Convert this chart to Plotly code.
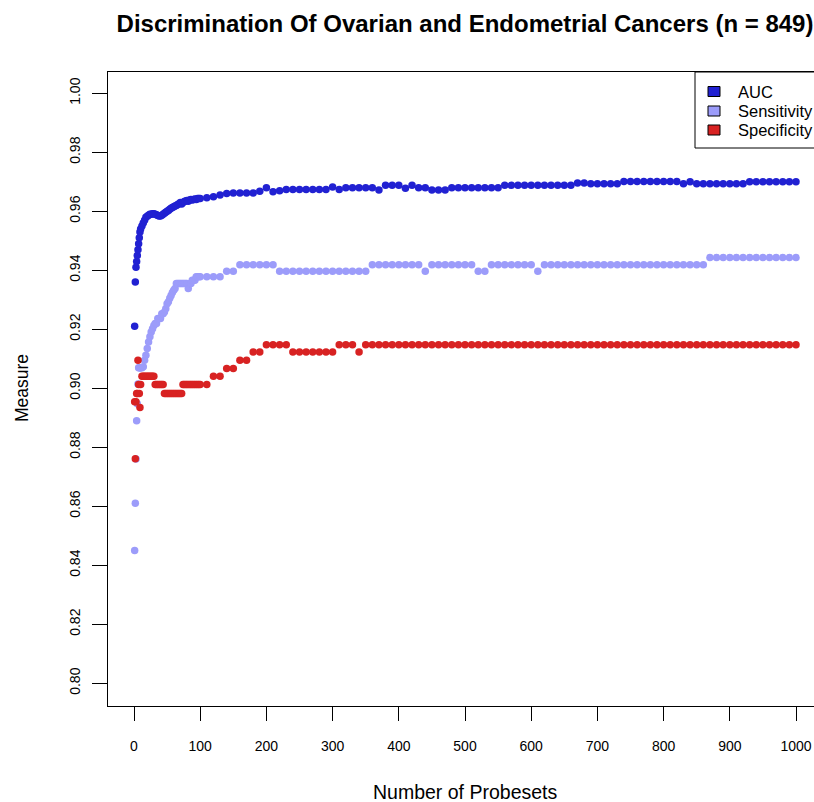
import plotly.graph_objects as go

# ---------------- data ----------------
probesets = list(range(1, 11)) + list(range(12, 101, 2)) + list(range(110, 1001, 10))

auc = [
    0.921, 0.936, 0.941, 0.943, 0.945, 0.947, 0.949, 0.951, 0.953, 0.954,
    # 12..100 step 2
    0.955, 0.956, 0.957, 0.958, 0.9583,
    0.9587, 0.959, 0.959, 0.9592, 0.9592,
    0.959, 0.9588, 0.9586, 0.9584, 0.9584,
    0.9587, 0.959, 0.9593, 0.9597, 0.960,
    0.9603, 0.9607, 0.961, 0.9613, 0.9615,
    0.9618, 0.962, 0.9623, 0.9626, 0.963,
    0.9625, 0.963, 0.9633, 0.9635, 0.9637,
    0.9634, 0.9638, 0.964, 0.9638, 0.964,
    0.9642, 0.964, 0.9643, 0.9643, 0.9643,
    # 110..1000 step 10
    0.9646, 0.9649, 0.9655, 0.966, 0.9662, 0.9662, 0.9662, 0.9662, 0.9668, 0.968,
    0.9666, 0.967, 0.9674, 0.9674, 0.9674, 0.9674, 0.9674, 0.9674, 0.9674, 0.9682,
    0.9674, 0.968, 0.968, 0.968, 0.968, 0.968, 0.9672, 0.9688, 0.9688, 0.9688,
    0.9678, 0.9688, 0.968, 0.968, 0.9672, 0.9672, 0.9672, 0.968, 0.968, 0.968,
    0.968, 0.968, 0.968, 0.968, 0.968, 0.9688, 0.9688, 0.9688, 0.9688, 0.9688,
    0.9688, 0.9688, 0.9688, 0.9688, 0.9688, 0.9688, 0.9696, 0.9696, 0.9693, 0.9693,
    0.9693, 0.9693, 0.9693, 0.9701, 0.9701, 0.9701, 0.9701, 0.9701, 0.9701, 0.9701,
    0.9701, 0.9701, 0.9693, 0.970, 0.9693, 0.9693, 0.9693, 0.9693, 0.9693, 0.9693,
    0.9693, 0.9693, 0.970, 0.970, 0.970, 0.970, 0.970, 0.970, 0.970, 0.970,
]

sensitivity = [
    0.845, 0.861, 0.876, 0.889, 0.8948, 0.9015, 0.907, 0.907, 0.907, 0.907,
    # 12..100 step 2
    0.907, 0.9073, 0.9095, 0.9112, 0.9135,
    0.9157, 0.9175, 0.9191, 0.9202, 0.9213,
    0.922, 0.922, 0.9237, 0.9237, 0.9237,
    0.9253, 0.9253, 0.9259, 0.927, 0.9287,
    0.9293, 0.9305, 0.9315, 0.9325, 0.9332,
    0.9338, 0.9355, 0.9355, 0.9355, 0.9355,
    0.9355, 0.9355, 0.9355, 0.9355, 0.9355,
    0.9338, 0.9355, 0.9355, 0.9366, 0.9366,
    0.9366, 0.9378, 0.9378, 0.9378, 0.9378,
    # 110..1000 step 10
    0.9378, 0.9378, 0.9378, 0.9397, 0.9397, 0.9419, 0.9419, 0.9419, 0.9419, 0.9419,
    0.9419, 0.9397, 0.9397, 0.9397, 0.9397, 0.9397, 0.9397, 0.9397, 0.9397, 0.9397,
    0.9397, 0.9397, 0.9397, 0.9397, 0.9397, 0.9419, 0.9419, 0.9419, 0.9419, 0.9419,
    0.9419, 0.9419, 0.9419, 0.9397, 0.9419, 0.9419, 0.9419, 0.9419, 0.9419, 0.9419,
    0.9419, 0.9397, 0.9397, 0.9419, 0.9419, 0.9419, 0.9419, 0.9419, 0.9419, 0.9419,
    0.9397, 0.9419, 0.9419, 0.9419, 0.9419, 0.9419, 0.9419, 0.9419, 0.9419, 0.9419,
    0.9419, 0.9419, 0.9419, 0.9419, 0.9419, 0.9419, 0.9419, 0.9419, 0.9419, 0.9419,
    0.9419, 0.9419, 0.9419, 0.9419, 0.9419, 0.9419, 0.9443, 0.9443, 0.9443, 0.9443,
    0.9443, 0.9443, 0.9443, 0.9443, 0.9443, 0.9443, 0.9443, 0.9443, 0.9443, 0.9443,
]

specificity = [
    0.8954, 0.8761, 0.8954, 0.8982, 0.8982, 0.9095, 0.9013, 0.8982, 0.8935, 0.9013,
    # 12..100 step 2
    0.9041, 0.9041, 0.9041, 0.9041, 0.9041,
    0.9041, 0.9041, 0.9041, 0.9041, 0.9041,
    0.9013, 0.9013, 0.9013, 0.9013, 0.9013,
    0.9013, 0.9013, 0.8982, 0.8982, 0.8982,
    0.8982, 0.8982, 0.8982, 0.8982, 0.8982,
    0.8982, 0.8982, 0.8982, 0.8982, 0.8982,
    0.8982, 0.9013, 0.9013, 0.9013, 0.9013,
    0.9013, 0.9013, 0.9013, 0.9013, 0.9013,
    0.9013, 0.9013, 0.9013, 0.9013, 0.9013,
    # 110..1000 step 10
    0.9013, 0.9041, 0.9041, 0.9067, 0.9067, 0.9095, 0.9095, 0.9123, 0.9123, 0.9148,
    0.9148, 0.9148, 0.9148, 0.9123, 0.9123, 0.9123, 0.9123, 0.9123, 0.9123, 0.9123,
    0.9148, 0.9148, 0.9148, 0.9123, 0.9148, 0.9148, 0.9148, 0.9148, 0.9148, 0.9148,
    0.9148, 0.9148, 0.9148, 0.9148, 0.9148, 0.9148, 0.9148, 0.9148, 0.9148, 0.9148,
    0.9148, 0.9148, 0.9148, 0.9148, 0.9148, 0.9148, 0.9148, 0.9148, 0.9148, 0.9148,
    0.9148, 0.9148, 0.9148, 0.9148, 0.9148, 0.9148, 0.9148, 0.9148, 0.9148, 0.9148,
    0.9148, 0.9148, 0.9148, 0.9148, 0.9148, 0.9148, 0.9148, 0.9148, 0.9148, 0.9148,
    0.9148, 0.9148, 0.9148, 0.9148, 0.9148, 0.9148, 0.9148, 0.9148, 0.9148, 0.9148,
    0.9148, 0.9148, 0.9148, 0.9148, 0.9148, 0.9148, 0.9148, 0.9148, 0.9148, 0.9148,
]

series_names = ["AUC", "Sensitivity", "Specificity"]
x_ticks = [0, 100, 200, 300, 400, 500, 600, 700, 800, 900, 1000]
y_ticks = [0.80, 0.82, 0.84, 0.86, 0.88, 0.90, 0.92, 0.94, 0.96, 0.98, 1.00]

# ---------------- style ----------------
colors = ["#2121D2", "#9C9CFA", "#D82222"]
FONT = "Liberation Sans, Arial, Helvetica, sans-serif"
W, H = 814, 802
L, T, B = 108, 72, 706       # plot area bounds in pixels
R = W                        # plot runs to the right edge (cropped as in reference)


def sx(p):   # pixel x -> paper
    return (p - L) / (R - L)


def sy(p):   # pixel y -> paper
    return (B - p) / (B - T)


fig = go.Figure()
for name, vals, col in zip(series_names, [auc, sensitivity, specificity], colors):
    fig.add_trace(go.Scatter(
        x=probesets, y=vals, mode="markers", name=name,
        marker=dict(color=col, size=7.5, line=dict(width=0)),
        showlegend=False,
    ))

# legend (R style, drawn manually)
shapes = [dict(type="rect", xref="paper", yref="paper",
               x0=sx(695), x1=sx(850), y0=sy(148), y1=sy(72),
               line=dict(color="black", width=1), fillcolor="white", layer="above")]
annotations = []
row_y = [91.5, 111, 130]
for name, col, yc in zip(series_names, colors, row_y):
    shapes.append(dict(type="rect", xref="paper", yref="paper",
                       x0=sx(708), x1=sx(720), y0=sy(yc + 5), y1=sy(yc - 5),
                       line=dict(color="black", width=1), fillcolor=col, layer="above"))
    annotations.append(dict(text=name, xref="paper", yref="paper",
                            x=sx(736), y=sy(yc), xanchor="left", yanchor="middle",
                            showarrow=False, font=dict(family=FONT, size=16.5, color="black")))

annotations.append(dict(text="Measure", xref="paper", yref="paper",
                        x=sx(22), y=sy(388), xanchor="center", yanchor="middle",
                        textangle=-90, showarrow=False,
                        font=dict(family=FONT, size=17.5, color="black")))
annotations.append(dict(text="Number of Probesets", xref="paper", yref="paper",
                        x=sx(465), y=sy(792), xanchor="center", yanchor="middle",
                        showarrow=False, font=dict(family=FONT, size=19.5, color="black")))

# data scales (0 -> 134px, 1000 -> 796px; 1.00 -> 93.3px, 0.80 -> 683.3px)
x0_val = (108 - 134) / 0.662
x1_val = (814 - 134) / 0.662
y_top = 1.00 + (93.3 - 72) / 2950
y_bot = 0.80 - (706 - 683.3) / 2950

fig.update_layout(
    width=W, height=H,
    margin=dict(l=L, r=W - R, t=T, b=H - B, pad=0),
    paper_bgcolor="white", plot_bgcolor="white",
    title=dict(text="<b>Discrimination Of Ovarian and Endometrial Cancers (n = 849)</b>",
               xref="paper", x=sx(465), xanchor="center",
               yref="container", y=1 - 24 / H, yanchor="middle",
               font=dict(family=FONT, size=24, color="black")),
    xaxis=dict(range=[x0_val, x1_val], tickmode="array", tickvals=x_ticks,
               ticktext=[str(v) for v in x_ticks],
               showgrid=False, zeroline=False, showline=True, linecolor="black",
               linewidth=1.3, mirror=True, ticks="outside", ticklen=14, tickwidth=1.3,
               tickcolor="black", ticklabelstandoff=13,
               tickfont=dict(family=FONT, size=14, color="black")),
    yaxis=dict(range=[y_bot, y_top], tickmode="array", tickvals=y_ticks,
               ticktext=["%.2f" % v for v in y_ticks], tickangle=-90,
               showgrid=False, zeroline=False, showline=True, linecolor="black",
               linewidth=1.3, mirror=False, ticks="outside", ticklen=15, tickwidth=1.3,
               tickcolor="black", ticklabelstandoff=6,
               tickfont=dict(family=FONT, size=14, color="black")),
    shapes=shapes,
    annotations=annotations,
)

fig.write_html(
    "out.html",
    config={"displayModeBar": False},
    post_script="document.body.style.margin='0';document.body.style.overflow='hidden';",
)
